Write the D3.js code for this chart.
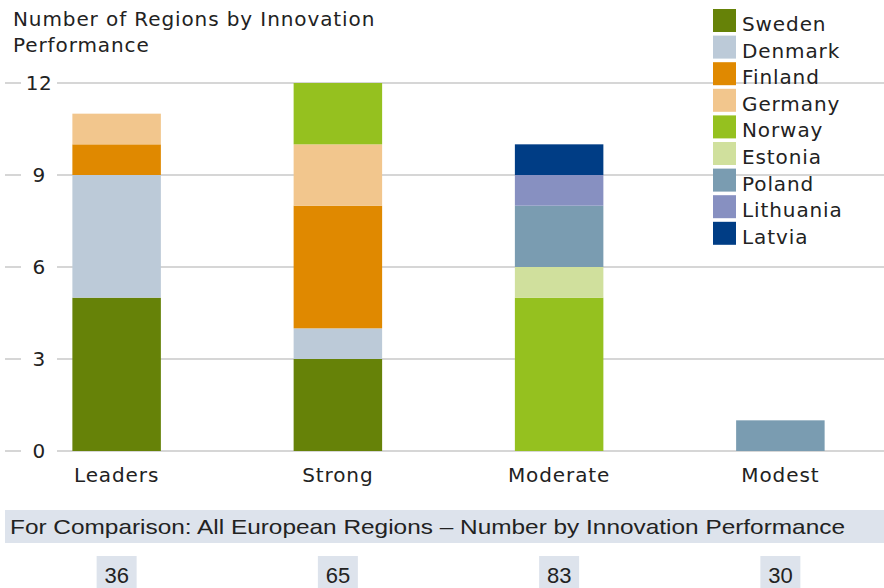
<!DOCTYPE html>
<html lang="en">
<head>
  <meta charset="UTF-8">
  <title>Number of Regions by Innovation Performance</title>
  <script src="https://d3js.org/d3.v7.min.js"></script>
  <style>
    body { margin: 0; background: #fff; }
    svg { font-family: "DejaVu Sans", "Noto Sans", sans-serif; }
    .narrow { font-family: "Liberation Sans Narrow", "Liberation Sans", sans-serif; }
  </style>
</head>
<body>
<svg id="chart" width="884" height="588"></svg>

<script>
// data
const categories = ["Leaders", "Strong", "Moderate", "Modest"];
const countries = ["Sweden", "Denmark", "Finland", "Germany", "Norway", "Estonia", "Poland", "Lithuania", "Latvia"];
const colors = ["#668208", "#bccad8", "#e08900", "#f2c68d", "#95c11f", "#d0e09d", "#7a9cb1", "#8790c1", "#003d85"];
const sweden    = [5, 3, 0, 0];
const denmark   = [4, 1, 0, 0];
const finland   = [1, 4, 0, 0];
const germany   = [1, 2, 0, 0];
const norway    = [0, 2, 5, 0];
const estonia   = [0, 0, 1, 0];
const poland    = [0, 0, 2, 1];
const lithuania = [0, 0, 1, 0];
const latvia    = [0, 0, 1, 0];
const yTicks = [0, 3, 6, 9, 12];
const europeTotals = [36, 65, 83, 30];

const seriesValues = [sweden, denmark, finland, germany, norway, estonia, poland, lithuania, latvia];

const rows = categories.map((c, i) => {
  const r = { category: c };
  countries.forEach((k, j) => r[k] = seriesValues[j][i]);
  return r;
});

const svg = d3.select("#chart");

const x = d3.scaleBand()
    .domain(categories)
    .range([6, 891])
    .paddingInner(0.6)
    .paddingOuter(0.3);

const y = d3.scaleLinear()
    .domain([0, 12])
    .range([451, 83]);

const color = d3.scaleOrdinal().domain(countries).range(colors);

// gridlines with a gap for the tick label
const grid = svg.append("g");
yTicks.forEach(t => {
  grid.append("line")
      .attr("x1", 5).attr("x2", 21)
      .attr("y1", y(t)).attr("y2", y(t))
      .attr("stroke", "#c8c8c8").attr("stroke-width", 1.5);
  grid.append("line")
      .attr("x1", 57).attr("x2", 884)
      .attr("y1", y(t)).attr("y2", y(t))
      .attr("stroke", "#c8c8c8").attr("stroke-width", 1.5);
  grid.append("text")
      .attr("x", 39).attr("y", y(t))
      .attr("dy", "0.35em")
      .attr("text-anchor", "middle")
      .style("font-size", "20px")
      .style("letter-spacing", "0.5px")
      .style("fill", "#222")
      .text(t);
});

// stacked bars
const stack = d3.stack().keys(countries)(rows);

svg.append("g")
  .selectAll("g")
  .data(stack)
  .join("g")
    .attr("fill", d => color(d.key))
  .selectAll("rect")
  .data(d => d.filter(s => s[1] > s[0]))
  .join("rect")
    .attr("x", d => x(d.data.category))
    .attr("y", d => y(d[1]))
    .attr("width", x.bandwidth())
    .attr("height", d => y(d[0]) - y(d[1]));

// category labels
svg.append("g")
  .selectAll("text")
  .data(categories)
  .join("text")
    .attr("x", d => x(d) + x.bandwidth() / 2)
    .attr("y", 482)
    .attr("text-anchor", "middle")
    .style("font-size", "20px")
    .style("letter-spacing", "0.9px")
    .style("fill", "#222")
    .text(d => d);

// title
svg.append("text")
    .attr("x", 13).attr("y", 26)
    .style("font-size", "20px")
    .style("letter-spacing", "0.9px")
    .style("fill", "#222")
  .selectAll("tspan")
  .data(["Number of Regions by Innovation", "Performance"])
  .join("tspan")
    .attr("x", 13)
    .attr("dy", (d, i) => i === 0 ? 0 : 26)
    .text(d => d);

// legend
const legend = svg.append("g")
  .selectAll("g")
  .data(countries)
  .join("g")
    .attr("transform", (d, i) => `translate(713, ${9 + i * 26.6})`);

legend.append("rect")
    .attr("width", 23).attr("height", 23)
    .attr("fill", d => color(d));

legend.append("text")
    .attr("x", 29).attr("y", 15)
    .attr("dy", "0.35em")
    .style("font-size", "20px")
    .style("letter-spacing", "0.9px")
    .style("fill", "#222")
    .text(d => d);

// comparison band
svg.append("rect")
    .attr("x", 5).attr("y", 510)
    .attr("width", 879).attr("height", 33)
    .attr("fill", "#dde3ec");

svg.append("text")
    .attr("class", "narrow")
    .attr("x", 10).attr("y", 527)
    .attr("dy", "0.35em")
    .attr("textLength", 835)
    .attr("lengthAdjust", "spacingAndGlyphs")
    .style("font-size", "21px")
    .style("fill", "#222")
    .text("For Comparison: All European Regions \u2013 Number by Innovation Performance");

const totals = svg.append("g")
  .selectAll("g")
  .data(europeTotals)
  .join("g")
    .attr("transform", (d, i) => `translate(${x(categories[i]) + x.bandwidth() / 2}, 556)`);

totals.append("rect")
    .attr("x", -20).attr("y", 0)
    .attr("width", 40).attr("height", 34)
    .attr("fill", "#dde3ec");

totals.append("text")
    .attr("class", "narrow")
    .attr("y", 19)
    .attr("dy", "0.35em")
    .attr("text-anchor", "middle")
    .style("font-size", "22px")
    .style("fill", "#222")
    .text(d => d);
</script>
</body>
</html>
